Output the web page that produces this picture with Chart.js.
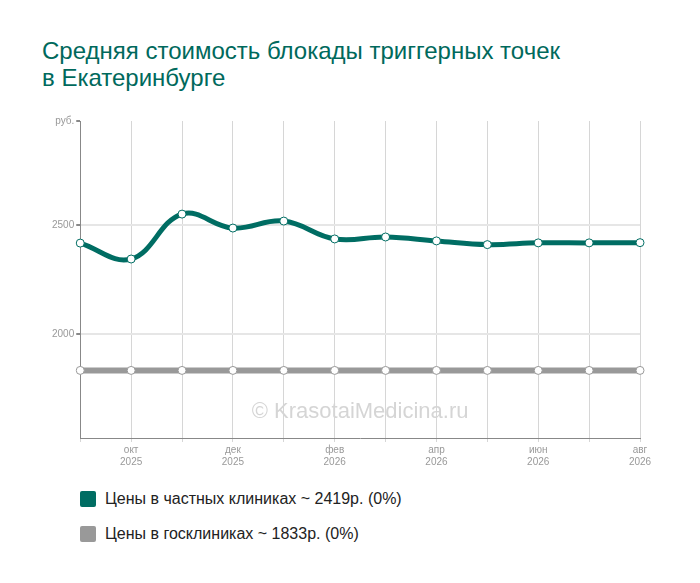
<!DOCTYPE html>
<html><head><meta charset="utf-8">
<script src="https://cdn.jsdelivr.net/npm/chart.js@4"></script>
<style>
body{margin:0;background:#fff;font-family:"Liberation Sans",Arial,sans-serif;}
#title{position:absolute;left:42px;top:37px;font-size:24px;line-height:27px;color:#00695c;}
#wrap{position:absolute;left:30px;top:110px;width:640px;height:360px;}
.leg{position:absolute;left:80px;font-size:16px;color:#222;}
.leg span{display:inline-block;width:16px;height:16px;vertical-align:-3px;margin-right:9px;border-radius:2px;}
</style></head><body>
<div id="title">Средняя стоимость блокады триггерных точек<br>в Екатеринбурге</div>
<div id="wrap"><canvas id="c"></canvas></div>
<div class="leg" style="top:490px"><span style="background:#006d63"></span>Цены в частных клиниках ~ 2419р. (0%)</div>
<div class="leg" style="top:525px"><span style="background:#999"></span>Цены в госклиниках ~ 1833р. (0%)</div>
<script>
const months = [['',''],['окт','2025'],['',''],['дек','2025'],['',''],['фев','2026'],['',''],['апр','2026'],['',''],['июн','2026'],['',''],['авг','2026']]
const privatePrices = [2417, 2344, 2550, 2486, 2518, 2436, 2445, 2427, 2410, 2418, 2418, 2419]
const statePrices = [1833, 1833, 1833, 1833, 1833, 1833, 1833, 1833, 1833, 1833, 1833, 1833]
const yMin = 1523, yMax = 2977

const watermark = {
    id: 'watermark',
    beforeDatasetsDraw(chart) {
        const ctx = chart.ctx, a = chart.chartArea
        ctx.save()
        ctx.font = '22px "Liberation Sans", Arial'
        ctx.fillStyle = '#d5d5d5'
        ctx.textAlign = 'center'
        ctx.fillText('© KrasotaiMedicina.ru', (a.left + a.right) / 2, 418 - 110)
        ctx.restore()
    }
}

new Chart(document.getElementById('c'), {
    type: 'line',
    data: {
        labels: months,
        datasets: [
            {data: privatePrices, borderColor: '#006d63', borderWidth: 5, tension: 0.4,
             pointBackgroundColor: '#fff', pointBorderColor: '#006d63', pointRadius: 4, pointBorderWidth: 1},
            {data: statePrices, borderColor: '#999', borderWidth: 6,
             pointBackgroundColor: '#fff', pointBorderColor: '#999', pointRadius: 4, pointBorderWidth: 1}
        ]
    },
    plugins: [watermark],
    options: {
        responsive: true, maintainAspectRatio: false, animation: false,
        layout: {padding: {left: 20, right: 30, top: 11, bottom: 0}},
        plugins: {legend: {display: false}, tooltip: {enabled: false}},
        scales: {
            x: {
                offset: false,
                grid: {color: '#d6d6d6', tickLength: 4, drawTicks: true},
                border: {color: '#888'},
                ticks: {color: '#999', font: {size: 10, family: '"Liberation Sans", Arial'}, maxRotation: 0, autoSkip: false, padding: 2}
            },
            y: {
                min: yMin, max: yMax,
                afterBuildTicks: axis => { axis.ticks = [{value: 2000}, {value: 2500}, {value: yMax}] },
                grid: {color: ctx => ctx.tick && ctx.tick.value === yMax ? 'rgba(0,0,0,0)' : '#e6e6e6', lineWidth: 2, tickLength: 4, tickColor: '#888'},
                border: {color: '#888'},
                ticks: {color: '#999', font: {size: 10, family: '"Liberation Sans", Arial'}, padding: 2,
                        callback: v => v === yMax ? 'руб.' : v}
            }
        }
    }
})
</script>
</body></html>
